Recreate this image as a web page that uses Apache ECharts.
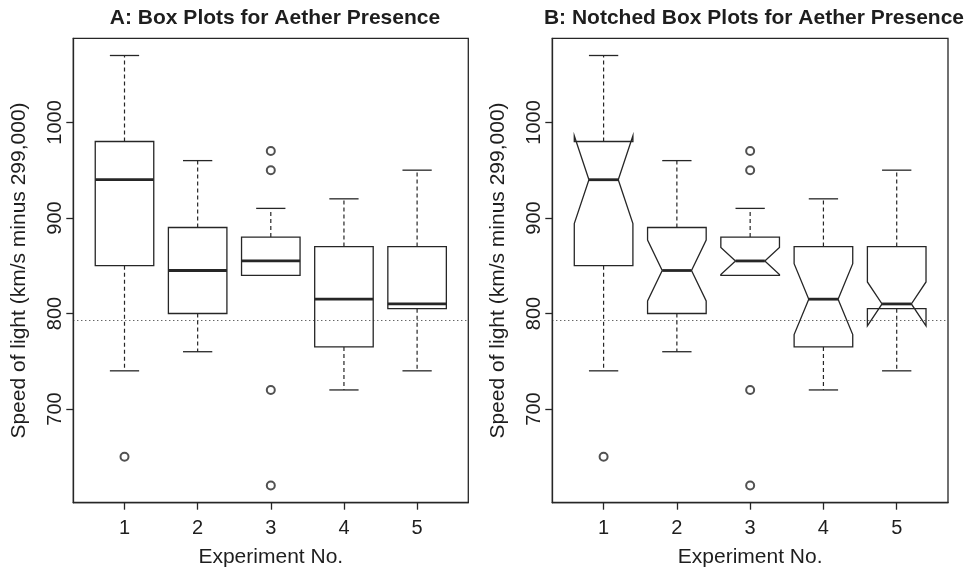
<!DOCTYPE html>
<html>
<head>
<meta charset="utf-8">
<title>Aether Presence</title>
<script src="https://cdn.jsdelivr.net/npm/echarts@6/dist/echarts.min.js"></script>
<style>
  html, body { margin: 0; padding: 0; background: #fff; }
  #chart { width: 966px; height: 569px; }
</style>
</head>
<body>
<div id="chart"></div>
<script>
// Michelson–Morley runs: speed of light (km/s minus 299,000), five experiments
const experiments   = [1, 2, 3, 4, 5];
const lowerWhisker  = [740, 760, 840, 720, 740];
const lowerHinge    = [850, 800, 840, 765, 805];
const medians       = [940, 845, 855, 815, 810];
const upperHinge    = [980, 890, 880, 870, 870];
const upperWhisker  = [1070, 960, 910, 920, 950];
const notchLow      = [894.1, 813.2, 840.9, 777.9, 787.0];
const notchHigh     = [985.9, 876.8, 869.1, 852.1, 833.0];
const outlierExpt   = [1, 3, 3, 3, 3];
const outlierSpeed  = [650, 620, 720, 950, 970];
const yTickValues   = [700, 800, 900, 1000];
const referenceSpeed = 792.458;   // accepted value, 299,792.458 km/s

const INK = '#262626';
const TEXT = '#1e1e1e';
const FONT = "'Liberation Sans', Arial, Helvetica, sans-serif";

const boxData = experiments.map((e, i) => [
  e, lowerWhisker[i], lowerHinge[i], medians[i], upperHinge[i], upperWhisker[i],
  notchLow[i], notchHigh[i]
]);
const outlierData = outlierExpt.map((e, i) => [e, outlierSpeed[i]]);

function makeBoxRenderer(notched) {
  return function (params, api) {
    const x = api.value(0);
    const lw = api.value(1), q1 = api.value(2), med = api.value(3);
    const q3 = api.value(4), uw = api.value(5);
    const nl = api.value(6), nh = api.value(7);
    const half = 0.4, staple = 0.2, nf = 0.5;
    const P = (dx, v) => api.coord([x + dx, v]);
    const lineStyle = { stroke: INK, lineWidth: 1.3, fill: null };
    const dashStyle = { stroke: INK, lineWidth: 1.2, lineDash: [4, 3], fill: null };
    const seg = (a, b, style) => ({
      type: 'line',
      shape: { x1: a[0], y1: a[1], x2: b[0], y2: b[1] },
      style: style
    });
    const children = [];
    // whiskers
    children.push(seg(P(0, q1), P(0, lw), dashStyle));
    children.push(seg(P(0, q3), P(0, uw), dashStyle));
    // staples
    children.push(seg(P(-staple, lw), P(staple, lw), lineStyle));
    children.push(seg(P(-staple, uw), P(staple, uw), lineStyle));
    // box
    let pts;
    if (notched) {
      pts = [
        P(-half, q1), P(-half, nl), P(-half * nf, med), P(-half, nh), P(-half, q3),
        P(half, q3), P(half, nh), P(half * nf, med), P(half, nl), P(half, q1)
      ];
    } else {
      pts = [P(-half, q1), P(-half, q3), P(half, q3), P(half, q1)];
    }
    children.push({
      type: 'polygon',
      shape: { points: pts },
      style: { stroke: INK, lineWidth: 1.3, fill: '#fff' }
    });
    // median
    const mw = notched ? half * nf : half;
    children.push(seg(P(-mw, med), P(mw, med), { stroke: INK, lineWidth: 2.8, fill: null }));
    return { type: 'group', children: children };
  };
}

function xAxisFor(gridIndex) {
  return {
    type: 'value', gridIndex: gridIndex, min: 0.3, max: 5.7,
    name: 'Experiment No.', nameLocation: 'middle', nameGap: 44,
    nameTextStyle: { fontFamily: FONT, fontSize: 21, color: TEXT },
    axisLine: { show: true, lineStyle: { color: INK, width: 1.3 } },
    axisTick: { show: true, inside: false, length: 7, customValues: experiments,
                lineStyle: { color: INK, width: 1.3 } },
    axisLabel: { show: true, customValues: experiments, margin: 16,
                 formatter: (v) => String(v),
                 fontFamily: FONT, fontSize: 20, color: TEXT },
    splitLine: { show: false }
  };
}

function yAxisFor(gridIndex) {
  return {
    type: 'value', gridIndex: gridIndex, min: 602, max: 1088,
    name: 'Speed of light (km/s minus 299,000)', nameLocation: 'middle', nameRotate: 90,
    nameGap: 44,
    nameTextStyle: { fontFamily: FONT, fontSize: 21, color: TEXT },
    axisLine: { show: true, lineStyle: { color: INK, width: 1.3 } },
    axisTick: { show: true, inside: false, length: 7, customValues: yTickValues,
                lineStyle: { color: INK, width: 1.3 } },
    axisLabel: { show: true, customValues: yTickValues, rotate: 90, margin: 8,
                 formatter: (v) => String(v),
                 fontFamily: FONT, fontSize: 20, color: TEXT },
    splitLine: { show: false }
  };
}

function outlierSeries(idx) {
  return {
    type: 'scatter', xAxisIndex: idx, yAxisIndex: idx,
    data: outlierData,
    symbol: 'emptyCircle', symbolSize: 8,
    itemStyle: { color: INK, borderColor: INK, borderWidth: 1.1 },
    silent: true, z: 5,
    markLine: {
      silent: true, symbol: 'none', label: { show: false },
      lineStyle: { type: [1, 3], color: INK, width: 1 },
      data: [{ yAxis: referenceSpeed }]
    }
  };
}

const chart = echarts.init(document.getElementById('chart'), null, { renderer: 'canvas' });
chart.setOption({
  backgroundColor: '#fff',
  animation: false,
  title: [
    { text: 'A: Box Plots for Aether Presence', left: 270, top: 3, textAlign: 'center',
      textStyle: { fontFamily: FONT, fontSize: 21, fontWeight: 'bold', color: TEXT } },
    { text: 'B: Notched Box Plots for Aether Presence', left: 749, top: 3, textAlign: 'center',
      textStyle: { fontFamily: FONT, fontSize: 21, fontWeight: 'bold', color: TEXT } }
  ],
  grid: [
    { left: 73.3, top: 38.3, width: 395, height: 464.4, show: true, outerBoundsMode: 'none',
      containLabel: false, borderColor: INK, borderWidth: 1.3, backgroundColor: 'transparent' },
    { left: 552.3, top: 38.3, width: 395.7, height: 464.4, show: true, outerBoundsMode: 'none',
      containLabel: false, borderColor: INK, borderWidth: 1.3, backgroundColor: 'transparent' }
  ],
  xAxis: [xAxisFor(0), xAxisFor(1)],
  yAxis: [yAxisFor(0), yAxisFor(1)],
  series: [
    { type: 'custom', xAxisIndex: 0, yAxisIndex: 0, data: boxData, clip: false,
      encode: { x: 0, y: [1, 2, 3, 4, 5] }, renderItem: makeBoxRenderer(false), z: 3, silent: true },
    outlierSeries(0),
    { type: 'custom', xAxisIndex: 1, yAxisIndex: 1, data: boxData, clip: false,
      encode: { x: 0, y: [1, 2, 3, 4, 5] }, renderItem: makeBoxRenderer(true), z: 3, silent: true },
    outlierSeries(1)
  ]
});
</script>
</body>
</html>
